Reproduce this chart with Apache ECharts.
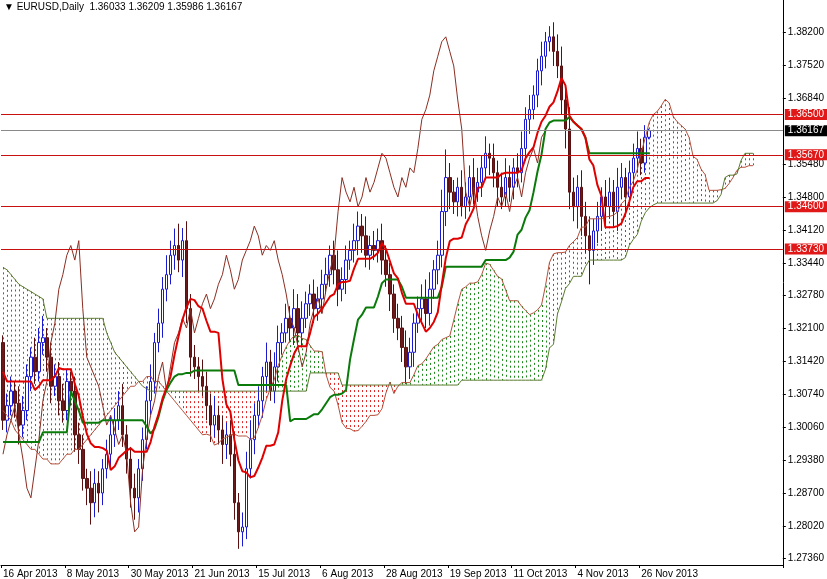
<!DOCTYPE html>
<html>
<head>
<meta charset="utf-8">
<script src="https://cdn.jsdelivr.net/npm/echarts@6/dist/echarts.min.js"></script>
<style>
  html, body { margin: 0; padding: 0; background: #fff; }
  #main { width: 827px; height: 579px; }
</style>
</head>
<body>
<div id="main"></div>
<script>
// daily closes, EURUSD, bar 0 = 16 Apr 2013
const closes = [
  1.3020,1.3050,1.3080,1.3055,1.3010,1.3040,1.3110,1.3150,1.3120,1.3180,
  1.3190,1.3150,1.3090,1.3110,1.3060,1.3040,1.3100,1.3080,1.2990,1.2960,
  1.2900,1.2880,1.2850,1.2890,1.2870,1.2920,1.2950,1.2990,1.3020,1.3050,
  1.2990,1.2940,1.2880,1.2860,1.2920,1.2980,1.3060,1.3100,1.3180,1.3220,
  1.3290,1.3320,1.3360,1.3380,1.3350,1.3390,1.3250,1.3150,1.3130,1.3110,
  1.3090,1.3050,1.3010,1.3030,1.3000,1.2970,1.2990,1.2950,1.2850,1.2790,
  1.2800,1.2920,1.2980,1.3030,1.3060,1.3110,1.3140,1.3080,1.3130,1.3180,
  1.3200,1.3230,1.3210,1.3250,1.3200,1.3230,1.3260,1.3280,1.3250,1.3270,
  1.3300,1.3320,1.3360,1.3330,1.3290,1.3310,1.3350,1.3370,1.3390,1.3420,
  1.3400,1.3360,1.3380,1.3370,1.3390,1.3350,1.3320,1.3280,1.3230,1.3210,
  1.3170,1.3130,1.3160,1.3220,1.3250,1.3270,1.3240,1.3290,1.3330,1.3360,
  1.3450,1.3520,1.3490,1.3470,1.3500,1.3460,1.3480,1.3520,1.3490,1.3510,
  1.3540,1.3570,1.3560,1.3530,1.3500,1.3480,1.3520,1.3500,1.3540,1.3530,
  1.3580,1.3640,1.3660,1.3690,1.3740,1.3770,1.3800,1.3810,1.3780,1.3750,
  1.3680,1.3620,1.3490,1.3460,1.3500,1.3440,1.3400,1.3370,1.3410,1.3440,
  1.3480,1.3460,1.3490,1.3450,1.3500,1.3520,1.3480,1.3530,1.3560,1.3580,
  1.3550,1.3603,1.36167
];
const firstOpen = 1.3180;
// wick lengths in pips above the body / below the body
const upWick = [
  15,25,30,20,35,30,25,20,40,30, 45,20,30,25,30,35,25,20,30,25,
  30,20,35,30,25,20,30,40,25,30, 45,20,25,30,20,25,30,35,20,30,
  25,40,30,35,45,26,40,30,25,20, 35,30,25,40,20,30,25,30,45,20,
  30,35,40,25,30,20,40,25,30,35, 20,30,25,40,30,35,25,20,30,25,
  30,35,20,30,40,25,30,20,35,30, 25,40,20,30,25,35,30,25,20,30,
  25,35,30,20,25,30,40,35,20,30, 45,58,30,25,20,35,30,25,40,30,
  25,35,20,30,25,30,40,25,20,30, 35,25,30,20,25,30,20,22,30,35,
  40,30,45,30,25,35,30,40,25,30, 20,35,30,25,40,30,20,25,30,35,
  20,25,4
];
const downWick = [
  20,25,20,30,40,25,20,30,25,20, 25,30,35,20,30,25,20,30,35,30,
  25,35,45,30,40,25,20,30,25,20, 25,30,40,45,30,25,20,30,25,20,
  30,25,20,30,25,35,30,40,25,30, 20,30,35,25,30,40,30,25,35,35,
  30,25,20,30,25,35,30,20,25,30, 25,20,30,35,25,30,20,25,30,25,
  30,20,25,30,35,25,30,20,25,30, 35,25,30,20,25,30,25,35,30,25,
  30,35,25,30,20,25,30,25,20,30, 25,30,35,25,30,20,25,30,25,20,
  30,25,35,30,40,25,20,30,25,30, 20,25,30,20,25,30,25,20,30,25,
  30,40,35,30,45,40,35,70,30,25, 30,35,25,30,40,25,30,20,25,30,
  25,20,4
];
// indicator values before enough history is on the chart
const tenkanEarly = [1.3120,1.3100,1.3100,1.3100,1.3100,1.3100,1.3100,1.3100];
const kijunEarly = [
  1.2975,1.2975,1.2975,1.2975,1.2975,1.2975,1.2975,1.2975,1.2975,1.2975,
  1.2995,1.2995,1.2995,1.2995,1.2995,1.2995,1.2995,1.3080,1.3060,1.3040,
  1.3015,1.3015,1.3015,1.3015,1.3015
];
const spanAEarly = [
  1.3040,1.3030,1.3020,1.3000,1.2990,1.2980,1.2970,1.2960,1.2960,1.2950,
  1.2940,1.2940,1.2930,1.2930,1.2930,1.2940,1.2950,1.2950,1.2960,1.2960,
  1.2970,1.2980,1.2990,1.3000,1.3010,1.3020,1.3030,1.3040,1.3050,1.3060,
  1.3070,1.3080,1.3090,1.3090,1.3100,1.3100,1.3110,1.3110,1.3100,1.3100,
  1.3090,1.3080,1.3070,1.3060,1.3050,1.3040,1.3030,1.3020,1.3010,1.3000,
  1.2990
];
const spanBEarly = [
  1.3335,1.3330,1.3320,1.3310,1.3300,1.3295,1.3290,1.3285,1.3280,1.3275,
  1.3270,1.3230,1.3230,1.3230,1.3230,1.3230,1.3230,1.3230,1.3230,1.3230,
  1.3230,1.3230,1.3230,1.3230,1.3230,1.3230,1.3200,1.3180,1.3160,1.3150,
  1.3140,1.3130,1.3120,1.3110,1.3100,1.3090,1.3085,1.3080,1.3080,1.3080,
  1.3080,1.3080,1.3080,1.3080,1.3080,1.3080,1.3080,1.3080,1.3080,1.3080,
  1.3080,1.3080,1.3080,1.3080,1.3080,1.3080,1.3080,1.3080,1.3080,1.3080,
  1.3080,1.3080,1.3080,1.3080,1.3080,1.3080,1.3080,1.3080,1.3080,1.3080,
  1.3080,1.3080,1.3080,1.3080,1.3080,1.3080,1.3080
];
const dateLabels = ['16 Apr 2013','8 May 2013','30 May 2013','21 Jun 2013','15 Jul 2013',
  '6 Aug 2013','28 Aug 2013','19 Sep 2013','11 Oct 2013','4 Nov 2013','26 Nov 2013'];
const priceTicks = [1.38200,1.37520,1.36840,1.35480,1.34800,1.34120,1.33440,1.32780,
  1.32100,1.31420,1.30740,1.30060,1.29380,1.28700,1.28020,1.27360];
const redLevels = [1.36500, 1.35670, 1.34600, 1.33730];
const lastPrice = 1.36167;

const N = closes.length, SHIFT = 26, TOTAL = 196;

// OHLC
const ohlc = [], highs = [], lows = [];
for (let i = 0; i < N; i++) {
  const o = i == 0 ? firstOpen : closes[i-1], c = closes[i];
  const h = Math.max(o, c) + upWick[i] / 10000, l = Math.min(o, c) - downWick[i] / 10000;
  highs.push(h); lows.push(l);
  ohlc.push([o, c, l, h]);
}
function mid(from, to) {
  let hi = -Infinity, lo = Infinity;
  for (let k = from; k <= to; k++) { hi = Math.max(hi, highs[k]); lo = Math.min(lo, lows[k]); }
  return (hi + lo) / 2;
}
const tenkan = [], kijun = [];
for (let i = 0; i < N; i++) {
  tenkan.push(i < 8 ? tenkanEarly[i] : mid(i-8, i));
  kijun.push(i < 25 ? kijunEarly[i] : mid(i-25, i));
}
const spanA = [], spanB = [];
for (let k = 0; k < N + SHIFT; k++) {
  spanA.push(k < 51 ? spanAEarly[k] : (tenkan[k-SHIFT] + kijun[k-SHIFT]) / 2);
  spanB.push(k < 77 ? spanBEarly[k] : mid(k-77, k-SHIFT));
}
const chikou = [];
for (let k = 0; k < N; k++) chikou.push(k + SHIFT < N ? closes[k + SHIFT] : '-');

// cloud columns: [bar, spanA, spanB, 1 = bullish]
const cloud = spanA.map((a, k) => [k, a, spanB[k], a > spanB[k] ? 1 : 0]);

const cats = [];
for (let i = 0; i < TOTAL; i++) cats.push(i % 16 == 0 && dateLabels[i/16] ? dateLabels[i/16] : '');

// MT4-style dotted histogram between the two spans, one column per bar
function renderCloud(params, api) {
  const k = api.value(0), a = api.value(1), b = api.value(2);
  const pa = api.coord([k, a]), pb = api.coord([k, b]);
  const top = Math.min(pa[1], pb[1]), bot = Math.max(pa[1], pb[1]);
  const x = Math.round(pa[0]) + 0.5;
  const color = api.value(3) ? '#1a8a1a' : '#e02828';
  return {
    type: 'line', silent: true,
    shape: { x1: x, y1: top, x2: x, y2: bot },
    style: { stroke: color, fill: null, lineWidth: 1, lineDash: [2, 3] }
  };
}

const chart = echarts.init(document.getElementById('main'));
const lineLabel = (bg) => ({
  show: true, position: 'end', distance: 2,
  formatter: p => p.value.toFixed(5),
  backgroundColor: bg, color: '#fff', fontSize: 10, fontFamily: 'Liberation Sans',
  padding: [1, 3, 0, 3]
});
chart.setOption({
  animation: false,
  backgroundColor: '#fff',
  graphic: [{
    type: 'text', left: 4, top: 2,
    style: { text: '\u25BC EURUSD,Daily  1.36033 1.36209 1.35986 1.36167',
      fill: '#000', font: '10px Liberation Sans' }
  }],
  grid: { left: 0, right: 44, top: 0, bottom: 14 },
  xAxis: {
    type: 'category', data: cats, boundaryGap: true,
    axisLine: { lineStyle: { color: '#000' } },
    axisTick: { show: true, interval: (i) => cats[i] !== '', length: 3, lineStyle: { color: '#000' } },
    axisLabel: { interval: (i) => cats[i] !== '', align: 'left', margin: 4,
      color: '#000', fontSize: 10, fontFamily: 'Liberation Sans' },
    splitLine: { show: false }
  },
  yAxis: {
    type: 'value', position: 'right', min: 1.27217, max: 1.38859, scale: true,
    axisLine: { show: true, lineStyle: { color: '#000' } },
    axisTick: { show: true, length: 3, customValues: priceTicks, lineStyle: { color: '#000' } },
    axisLabel: { customValues: priceTicks, formatter: v => v.toFixed(5), margin: 5,
      color: '#000', fontSize: 10, fontFamily: 'Liberation Sans' },
    splitLine: { show: false }
  },
  series: [
    { type: 'custom', data: cloud, renderItem: renderCloud, encode: { x: 0, y: [1, 2] },
      silent: true, progressive: 0, itemStyle: { color: 'transparent' } },
    { type: 'line', data: spanA, symbol: 'none', lineStyle: { color: '#b4503c', width: 1 } },
    { type: 'line', data: spanB, symbol: 'none', lineStyle: { color: '#5a7a30', width: 1 } },
    { type: 'line', data: chikou, symbol: 'none', lineStyle: { color: '#8b2e22', width: 1 } },
    { type: 'candlestick', data: ohlc, barWidth: 3,
      itemStyle: { color: '#ffffff', color0: '#6a1a1a', borderColor: '#1a1ad0', borderColor0: '#5a1010', borderWidth: 1 },
      markLine: {
        symbol: 'none', silent: true, animation: false, precision: 5,
        data: redLevels.map(v => ({ yAxis: v, lineStyle: { color: '#c81010', width: 1, type: 'solid' }, label: lineLabel('#e01818') }))
          .concat([{ yAxis: lastPrice, lineStyle: { color: '#8a8a8a', width: 1, type: 'solid' }, label: lineLabel('#000') }])
      }
    },
    { type: 'line', data: kijun, symbol: 'none', lineStyle: { color: '#0a7a0a', width: 2 } },
    { type: 'line', data: tenkan, symbol: 'none', lineStyle: { color: '#e00000', width: 2 } }
  ]
});
</script>
</body>
</html>
